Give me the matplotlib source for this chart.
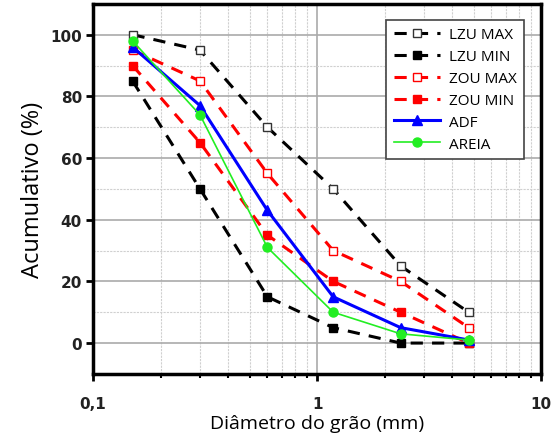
import matplotlib
matplotlib.use("Agg")
import matplotlib.pyplot as plt
from matplotlib.ticker import FixedLocator, FuncFormatter, LogLocator, NullFormatter

sieves = [0.15, 0.3, 0.6, 1.18, 2.36, 4.75]
lzu_max = [100, 95, 70, 50, 25, 10]
lzu_min = [85, 50, 15, 5, 0, 0]
zou_max = [95, 85, 55, 30, 20, 5]
zou_min = [90, 65, 35, 20, 10, 0]
adf = [96, 77, 43, 15, 5, 1]
areia = [98, 74, 31, 10, 3, 1]

fig = plt.figure(figsize=(5.51, 4.39), dpi=100)
ax = fig.add_axes([0.169, 0.146, 0.813, 0.843])

ax.set_xscale("log")
ax.set_xlim(0.1, 10)
ax.set_ylim(-10, 110)

dash = (0, (4, 3))
ax.plot(sieves, lzu_max, color="black", linestyle=dash, lw=2.2, marker="s", ms=5.5,
        mfc="white", mec="#333333", mew=1.0, label="LZU MAX")
ax.plot(sieves, lzu_min, color="black", linestyle=dash, lw=2.2, marker="s", ms=5.5,
        mfc="black", mec="black", label="LZU MIN")
ax.plot(sieves, zou_max, color="red", linestyle=dash, lw=2.2, marker="s", ms=5.5,
        mfc="white", mec="red", mew=1.0, label="ZOU MAX")
ax.plot(sieves, zou_min, color="red", linestyle=dash, lw=2.2, marker="s", ms=5.5,
        mfc="red", mec="red", label="ZOU MIN")
ax.plot(sieves, adf, color="blue", lw=2.2, marker="^", ms=6.5, label="ADF")
ax.plot(sieves, areia, color="#22ee22", lw=1.2, marker="o", ms=6.5, label="AREIA")

ax.yaxis.set_major_locator(FixedLocator([0, 20, 40, 60, 80, 100]))
ax.yaxis.set_minor_locator(FixedLocator([10, 30, 50, 70, 90, 110, -10]))
ax.xaxis.set_major_locator(FixedLocator([0.1, 1, 10]))
ax.xaxis.set_minor_locator(LogLocator(base=10, subs=range(2, 10)))
ax.xaxis.set_minor_formatter(NullFormatter())
ax.xaxis.set_major_formatter(FuncFormatter(lambda v, p: {0.1: "0,1", 1: "1", 10: "10"}.get(round(v, 3), "")))

ax.grid(True, which="major", color="#aaaaaa", lw=1.2, ls="-")
ax.grid(True, which="minor", color="#d0d0d0", lw=0.8, ls=(0, (2, 1)))
ax.set_axisbelow(True)

for s in ax.spines.values():
    s.set_linewidth(2.5)
ax.tick_params(axis="both", which="major", direction="out", length=5, width=2,
               labelsize=11, pad=11)
ax.tick_params(axis="x", which="minor", direction="out", length=3, width=1.5)
ax.tick_params(axis="y", which="minor", length=0)
ax.tick_params(axis="y", which="major", pad=3)
for lab in ax.get_xticklabels() + ax.get_yticklabels():
    lab.set_fontweight("bold")
    lab.set_color("#222222")

ax.set_ylabel("Acumulativo (%)", fontsize=17, family="Open Sans", labelpad=4)
ax.set_xlabel("Diâmetro do grão (mm)", fontsize=14, family="Open Sans", labelpad=2)

leg = ax.legend(loc="upper right", bbox_to_anchor=(0.98, 0.978), fancybox=False,
                framealpha=1, edgecolor="#444444", prop={"family": "Open Sans", "size": 11},
                handlelength=3.0, labelspacing=0.45, borderpad=0.5, handletextpad=0.6)
leg.get_frame().set_linewidth(1.2)

fig.savefig("out.png", dpi=100)
